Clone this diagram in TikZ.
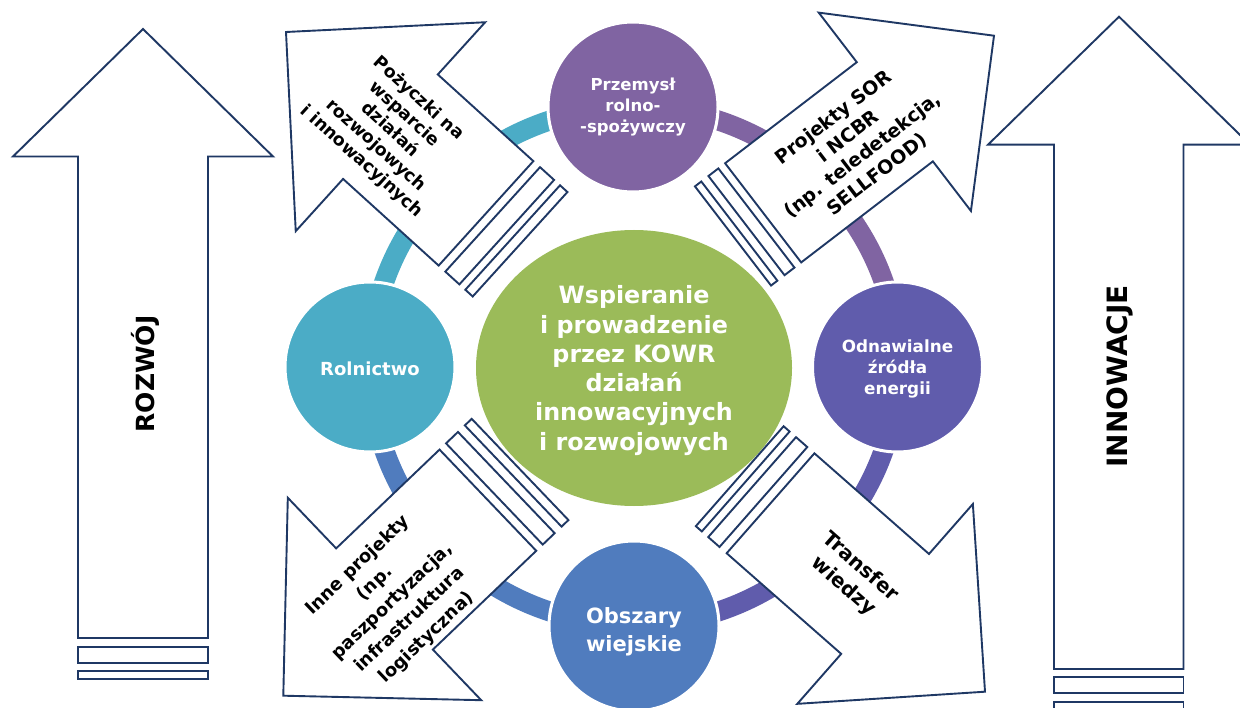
\documentclass[tikz,border=0pt]{standalone}
\usepackage{fontspec}
\setmainfont{DejaVu Sans}
\usetikzlibrary{shapes.geometric}
\definecolor{navy}{HTML}{1F3864}
\definecolor{cteal}{HTML}{4BACC6}
\definecolor{cpurple}{HTML}{8064A2}
\definecolor{cviolet}{HTML}{605CAC}
\definecolor{cblue}{HTML}{507CBE}
\definecolor{cgreen}{HTML}{9BBB59}
\newcommand\diagarrow[9]{%
  \begin{scope}[shift={(#1,#2)}, rotate=#3]
    \pgfmathsetmacro\hh{#4/2}
    \draw[outl] (0,0) -- (#4,#4) -- (#4,\hh) -- (#5,\hh) -- (#5,-\hh) -- (#4,-\hh) -- (#4,-#4) -- cycle;
    \draw[outl] (#6,\hh) rectangle (#7,-\hh);
    \draw[outl] (#8,\hh) rectangle (#9,-\hh);
  \end{scope}}
\begin{document}
\begin{tikzpicture}[x=1pt,y=-1pt,
  outl/.style={draw=navy, line width=1.9pt, fill=white, line join=miter},
  ring/.style={line width=20pt},
  smallc/.style={circle, draw=white, line width=3pt, inner sep=0pt, minimum size=170pt, text=white, align=center},
  ctext/.style={font=\bfseries\fontsize{16.5}{21}\selectfont},
  atext/.style={align=center, text=black},
  bigtext/.style={font=\bfseries\fontsize{25}{30}\selectfont, text=black}
]
\useasboundingbox (0,0) rectangle (1240,708);
\clip (0,0) rectangle (1240,708);
\fill[white] (0,0) rectangle (1240,708);

% big vertical arrows
\draw[outl] (143,29) -- (273,156.5) -- (208,156.5) -- (208,638) -- (78,638) -- (78,156.5) -- (13,156.5) -- cycle;
\draw[outl] (78,646.7) rectangle (208,662.7);
\draw[outl] (78,670.7) rectangle (208,679.3);
\node[bigtext, rotate=90] (rozwoj) at (145,374) {ROZWÓJ};

\draw[outl] (1119,16.7) -- (1250,144.7) -- (1183.5,144.7) -- (1183.5,669) -- (1054,669) -- (1054,144.7) -- (988,144.7) -- cycle;
\draw[outl] (1054,677.3) rectangle (1183.5,693.3);
\draw[outl] (1054,701.7) rectangle (1183.5,710.3);
\node[bigtext, rotate=90, font=\bfseries\fontsize{28}{32}\selectfont] (innow) at (1120,376.5) {INNOWACJE};

% ring
\begin{scope}\clip (0,0) rectangle (634,366);
  \draw[ring, cteal] (634,366) ellipse [x radius=264, y radius=259]; \end{scope}
\begin{scope}\clip (634,0) rectangle (1240,366);
  \draw[ring, cpurple] (634,366) ellipse [x radius=264, y radius=259]; \end{scope}
\begin{scope}\clip (634,366) rectangle (1240,708);
  \draw[ring, cviolet] (634,366) ellipse [x radius=264, y radius=259]; \end{scope}
\begin{scope}\clip (0,366) rectangle (634,708);
  \draw[ring, cblue] (634,366) ellipse [x radius=264, y radius=259]; \end{scope}

% center ellipse
\node[ellipse, fill=cgreen, minimum width=316pt, minimum height=276pt, inner sep=0pt] (center) at (634,368) {};
\node[text=white, align=center, font=\bfseries\fontsize{23.8}{29.3}\selectfont] (centertext) at (634,370.5)
  {Wspieranie\\i prowadzenie\\przez KOWR\\działań\\innowacyjnych\\i rozwojowych};

% small circles
\node[smallc, fill=cpurple] (przemysl) at (633,107) {};
\node[ctext, text=white, align=center] (przemyslt) at (633,107) {Przemysł\\rolno-\\-spożywczy};
\node[smallc, fill=cteal] (rolnictwo) at (370,367) {};
\node[text=white, font=\bfseries\fontsize{18}{22}\selectfont] (rolnictwot) at (370,368.5) {Rolnictwo};
\node[smallc, fill=cviolet] (oze) at (897.5,367) {};
\node[ctext, text=white, align=center, font=\bfseries\fontsize{16.8}{20.7}\selectfont] (ozet) at (897.5,369) {Odnawialne\\źródła\\energii};
\node[smallc, fill=cblue] (obszary) at (634,626) {};
\node[text=white, align=center, font=\bfseries\fontsize{21}{28}\selectfont] (obszaryt) at (634,632) {Obszary\\wiejskie};

% diagonal striped arrows
\diagarrow{286}{32}{-42.2}{141}{270}{279}{298}{306}{316}
\diagarrow{994}{35.7}{217.5}{125}{291}{299.5}{312}{321}{329}
\diagarrow{283.3}{695.7}{43.7}{140}{283}{292}{308.5}{318}{327.5}
\diagarrow{985}{691.7}{138.7}{133}{285.5}{295}{310}{318.5}{326.5}

\node[atext, rotate=-42.2, font=\bfseries\fontsize{17.5}{21.2}\selectfont] (tl) at (390,130)
  {Pożyczki na\\wsparcie\\działań\\rozwojowych\\i innowacyjnych};
\node[atext, rotate=37.5, font=\bfseries\fontsize{19}{24}\selectfont] (tr) at (855.4,146)
  {Projekty SOR\\i NCBR\\(np. teledetekcja,\\SELLFOOD)};
\node[atext, rotate=43.7, font=\bfseries\fontsize{18}{25}\selectfont] (bl) at (392.5,601.7)
  {Inne projekty\\(np.\\paszportyzacja,\\infrastruktura\\logistyczna)};
\node[atext, rotate=-41.3, font=\bfseries\fontsize{20}{26}\selectfont] (br) at (851.7,576.7)
  {Transfer\\wiedzy};
\end{tikzpicture}
\end{document}
